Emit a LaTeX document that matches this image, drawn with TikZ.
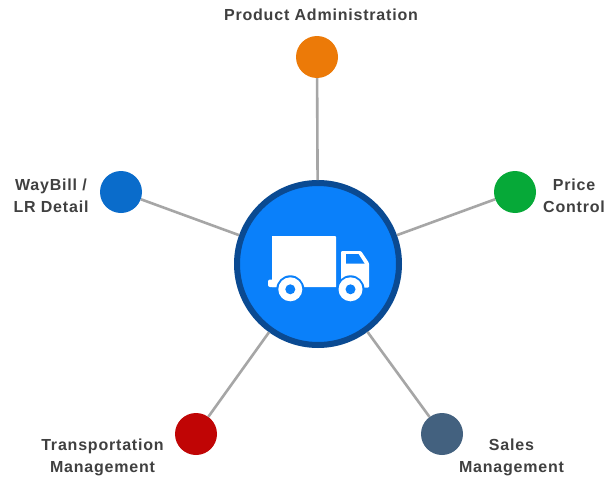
\documentclass[tikz,border=0pt]{standalone}
\usepackage{fontspec}
\setmainfont[LetterSpace=5]{Liberation Sans}
\definecolor{linegrey}{HTML}{A6A6A6}
\definecolor{txt}{HTML}{404040}
\definecolor{hubfill}{HTML}{0A80FA}
\definecolor{hubring}{HTML}{0A4A92}
\definecolor{corange}{HTML}{EC7A08}
\definecolor{cgreen}{HTML}{06A938}
\definecolor{cblue}{HTML}{0A6CCB}
\definecolor{cred}{HTML}{C00505}
\definecolor{cslate}{HTML}{43617F}
\tikzset{
  sat/.style={circle,minimum size=42pt,inner sep=0pt,fill=#1},
  hub/.style={circle,minimum size=162pt,inner sep=0pt,draw=hubring,line width=6pt,fill=hubfill},
  spoke/.style={draw=linegrey,line width=2.6pt},
  lab/.style={font=\bfseries\fontsize{16}{22}\selectfont,text=txt,align=center,inner sep=0pt},
}
\begin{document}
\begin{tikzpicture}[x=1pt,y=-1pt]
\useasboundingbox (0,0) rectangle (608,479);
\fill[white] (0,0) rectangle (608,479);
\node[hub] (h) at (318,264) {};
\node[sat=corange] (o) at (317,57) {};
\node[sat=cgreen] (g) at (515,192) {};
\node[sat=cblue] (b) at (121,192) {};
\node[sat=cred] (r) at (196,434) {};
\node[sat=cslate] (s) at (442,434) {};
\draw[spoke] (o) -- (h);
\draw[spoke] (g) -- (h);
\draw[spoke] (b) -- (h);
\draw[spoke] (r) -- (h);
\draw[spoke] (s) -- (h);
% truck
\fill[white] (272,236) -- (335,236) -- (336,237) -- (336,287) -- (272,287) -- cycle;
\fill[white,rounded corners=2pt] (268,279.5) rectangle (285,287);
\fill[white,rounded corners=1pt] (341,251) -- (361,251) -- (369,263) -- (369,287.5) -- (341,287.5) -- cycle;
\fill[hubfill] (346,254) -- (358.5,254) -- (364.5,263.5) -- (346,263.5) -- cycle;
\fill[hubfill] (290.3,289.3) circle (14);
\fill[hubfill] (350.5,289.3) circle (14);
\fill[white] (290.3,289.3) circle (12);
\fill[white] (350.5,289.3) circle (12);
\fill[hubfill] (290.3,289.3) circle (5);
\fill[hubfill] (350.5,289.3) circle (5);
% labels
\node[lab] (l1) at (321,15) {Product Administration};
\node[lab] (l2) at (51,196) {WayBill /\\LR Detail};
\node[lab] (l3) at (574,196) {Price\\Control};
\node[lab] (l4) at (102.5,457.5) {Transportation\\Management};
\node[lab] (l5) at (511.5,457.5) {Sales\\Management};
\end{tikzpicture}
\end{document}
